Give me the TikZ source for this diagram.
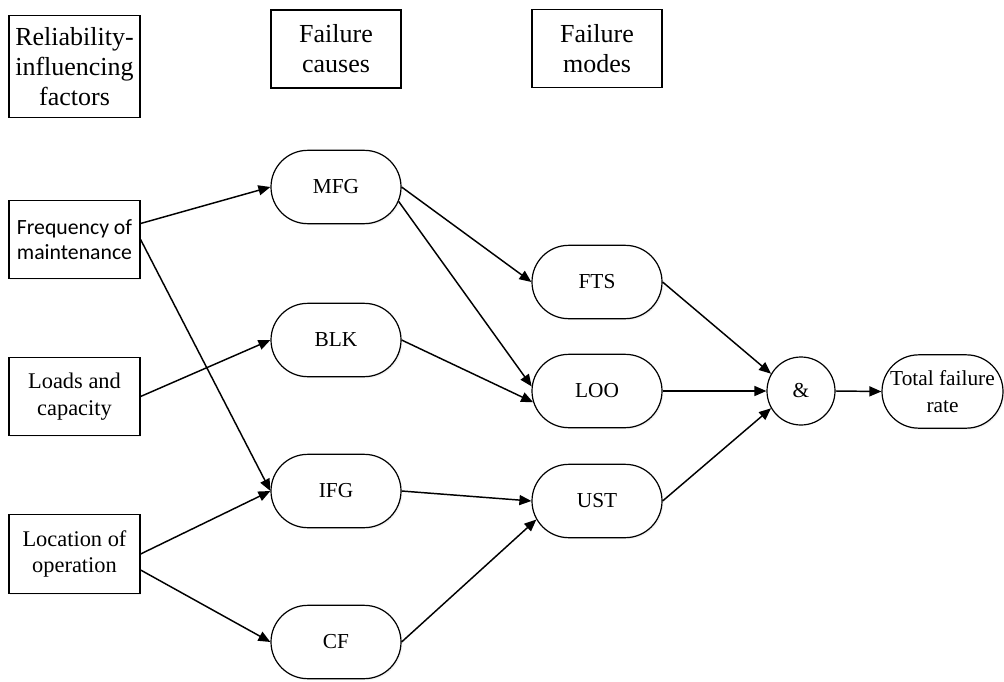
\documentclass[tikz,border=0pt]{standalone}
\usepackage{fontspec}
\setmainfont{Liberation Serif}
\newfontfamily\serifface{Liberation Serif}
\newfontfamily\calibfont{Carlito}
\usetikzlibrary{shapes.misc,shapes.geometric,arrows.meta,calc,shadows}

\begin{document}
\begin{tikzpicture}[
  x=0.75pt, y=-0.75pt,
  softshadow/.style={drop shadow={shadow xshift=1.1pt, shadow yshift=-1.1pt, opacity=0.10}},
  header/.style={draw, line width=0.9pt, fill=white, inner sep=0pt,
    minimum width=97.5pt, minimum height=58.5pt, align=center,
    font=\serifface\fontsize{19.5}{22.5}\selectfont},
  factor/.style={draw, line width=0.9pt, fill=white, softshadow, inner sep=0pt,
    minimum width=98.25pt, minimum height=59pt, align=center,
    font=\serifface\fontsize{16.8}{20}\selectfont},
  cause/.style={rounded rectangle, draw, line width=0.9pt, fill=white, softshadow,
    inner sep=0pt, minimum width=97.5pt, minimum height=55pt, align=center,
    font=\serifface\fontsize{16}{20}\selectfont},
  gate/.style={circle, draw, line width=0.9pt, fill=white, inner sep=0pt,
    minimum size=51pt, font=\serifface\fontsize{16}{20}\selectfont},
  link/.style={line width=1.1pt, -{Triangle[length=9pt, width=7.5pt]}}
]
\useasboundingbox (0,0) rectangle (1004,682);

% column headings
\node[header, minimum width=98.25pt, minimum height=77pt] (hrif) at (74.5,66.5) {Reliability-\\influencing\\factors};
\node[header] (hcause) at (336,49) {Failure\\causes};
\node[header, minimum height=59pt] (hmode) at (597,48.5) {Failure\\modes};

% reliability-influencing factors
\node[factor, font=\calibfont\fontsize{16.3}{19}\selectfont] (freq) at (74.5,239.5) {Frequency of\\maintenance};
\node[factor] (load) at (74.5,396.5) {Loads and\\capacity};
\node[factor] (loc) at (74.5,554) {Location of\\operation};

% failure causes
\node[cause] (mfg) at (336,187) {MFG};
\node[cause] (blk) at (336,340) {BLK};
\node[cause] (ifg) at (336,491) {IFG};
\node[cause] (cf)  at (336,642) {CF};

% failure modes
\node[cause] (fts) at (597,282) {FTS};
\node[cause] (loo) at (597,391) {LOO};
\node[cause] (ust) at (597,501) {UST};

% combination and result
\node[gate] (and) at (801,391) {\&};
\node[cause, minimum width=90.75pt] (total) at (942.5,391.5) {Total failure\\rate};

% factors -> causes
\draw[link] ($(freq.east)+(0,-16)$) -- (mfg.west);
\draw[link] (freq.east) -- (ifg.west);
\draw[link] (load.east) -- (blk.west);
\draw[link] (loc.east) -- (ifg.west);
\draw[link] ($(loc.east)+(0,16)$) -- (cf.west);

% causes -> modes
\draw[link] (mfg.east) -- (fts.west);
\draw[link] (mfg.-13) -- (loo.176);
\draw[link] (blk.east) -- (loo.190);
\draw[link] (ifg.east) -- (ust.west);
\draw[link] (cf.east) -- (ust.197);

% modes -> gate -> total
\draw[link] (fts.east) -- (and.150);
\draw[link] (loo.east) -- (and.west);
\draw[link] (ust.east) -- (and.210);
\draw[link] (and.east) -- (total.west);
\end{tikzpicture}
\end{document}
